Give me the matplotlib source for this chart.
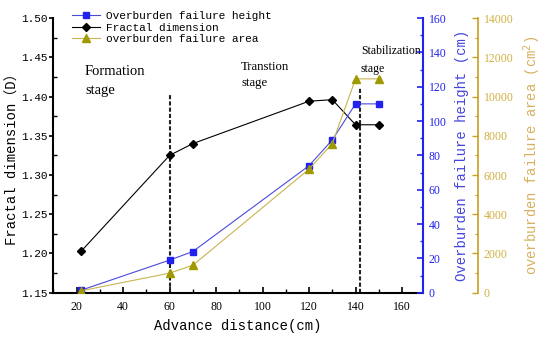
import matplotlib
matplotlib.use("Agg")
import matplotlib.pyplot as plt
from matplotlib.ticker import MultipleLocator, FormatStrFormatter

# ---- data ----
advance = [22, 60, 70, 120, 130, 140, 150]
fractal_dim = [1.203, 1.325, 1.340, 1.394, 1.396, 1.364, 1.364]
failure_height = [1.5, 19, 24, 74, 89, 110, 110]
failure_area = [100, 1000, 1400, 6300, 7600, 10900, 10900]
stage_lines = [60, 142]
stage_line_tops = [1.402, 1.412]
stage_texts = [("Formation", "stage"), ("Transtion", "stage"), ("Stabilization", "stage")]

BLUE = "#2222ee"
BLUE_LINE = "#4a4ae0"
OLIVE = "#a09a00"
OLIVE_LINE = "#c8b450"
OLIVE_AX = "#c8a020"
MONO = ["Liberation Mono", "Noto Sans CJK SC", "DejaVu Sans"]
SERIF = "Liberation Serif"

fig = plt.figure(figsize=(5.5, 3.4), dpi=100)
ax = fig.add_axes([0.097, 0.139, 0.672, 0.808])
ax2 = ax.twinx()
ax3 = ax.twinx()
ax3.spines["right"].set_position(("outward", 39.6))

# fractal dimension
l2, = ax.plot(advance, fractal_dim, color="black", lw=0.8, marker="D", ms=4.5,
              mfc="black", mec="black", label="Fractal dimension", zorder=3)
for xv, top in zip(stage_lines, stage_line_tops):
    ax.plot([xv, xv], [1.15, top], color="#222222", lw=1.5, ls=(0, (2, 1)), zorder=2)

# failure height
l1, = ax2.plot(advance, failure_height, color=BLUE_LINE, lw=0.8, marker="s", ms=4.5,
               mfc=BLUE, mec=BLUE, label="Overburden failure height", zorder=3)
# failure area
l3, = ax3.plot(advance, failure_area, color=OLIVE_LINE, lw=0.8, marker="^", ms=5.5,
               mfc=OLIVE, mec=OLIVE, label="overburden failure area", zorder=3)

# limits
ax.set_xlim(10, 169)
ax.set_ylim(1.15, 1.50)
ax2.set_ylim(0, 160)
ax3.set_ylim(0, 14000)

# main axes
for s in ["top", "right"]:
    ax.spines[s].set_visible(False)
for s in ["top", "left", "bottom"]:
    ax2.spines[s].set_visible(False)
    ax3.spines[s].set_visible(False)
ax3.spines["right"].set_visible(True)
ax.spines["left"].set_linewidth(1.5)
ax.spines["bottom"].set_linewidth(1.5)

ax.xaxis.set_major_locator(MultipleLocator(20))
ax.xaxis.set_minor_locator(MultipleLocator(10))
ax.yaxis.set_major_locator(MultipleLocator(0.05))
ax.yaxis.set_minor_locator(MultipleLocator(0.025))
ax.yaxis.set_major_formatter(FormatStrFormatter("%.2f"))
ax.tick_params(axis="x", which="major", direction="in", length=4, width=1.2, labelsize=8.5, pad=6)
ax.tick_params(axis="x", which="minor", direction="in", length=3, width=1.0)
ax.tick_params(axis="y", which="major", direction="out", length=3, width=1.2, labelsize=8, pad=1)
ax.tick_params(axis="y", which="minor", direction="in", length=3, width=1.0)
for t in ax.get_xticklabels():
    t.set_fontfamily(SERIF)
for t in ax.get_yticklabels():
    t.set_fontfamily(MONO)

ax.set_xlabel("Advance distance(cm)", family=MONO, fontsize=10, labelpad=4)
ax.set_ylabel("Fractal dimension（D）", family=MONO, fontsize=10, labelpad=1)

# blue axis
ax2.spines["right"].set_color(BLUE)
ax2.spines["right"].set_linewidth(1.5)
ax2.yaxis.set_major_locator(MultipleLocator(20))
ax2.yaxis.set_minor_locator(MultipleLocator(10))
ax2.tick_params(axis="y", which="major", direction="in", length=4, width=1.2, colors=BLUE, labelsize=8.5, pad=4)
ax2.tick_params(axis="y", which="minor", direction="in", length=2.5, width=1.0, colors=BLUE)
for t in ax2.get_yticklabels():
    t.set_fontfamily(SERIF)
ax2.set_ylabel("Overburden failure height (cm)", family=MONO, fontsize=10, color="#4444dd", labelpad=6)

# olive axis
ax3.spines["right"].set_color(OLIVE_AX)
ax3.spines["right"].set_linewidth(1.2)
ax3.yaxis.set_major_locator(MultipleLocator(2000))
ax3.yaxis.set_minor_locator(MultipleLocator(1000))
ax3.tick_params(axis="y", which="major", direction="in", length=4, width=1.0, colors=OLIVE_AX, labelsize=8.5, pad=4)
ax3.tick_params(axis="y", which="minor", direction="in", length=2.5, width=0.8, colors=OLIVE_AX)
for t in ax3.get_yticklabels():
    t.set_fontfamily(SERIF)
    t.set_color("#d0b040")
ax3.set_ylabel("overburden failure area (cm$^2$)", family=MONO, fontsize=10, color="#d8b060", labelpad=6)

# stage annotations
ax.text(23.6, 1.4315, stage_texts[0][0], family=SERIF, fontsize=10.5, va="center", ha="left")
ax.text(23.6, 1.4073, stage_texts[0][1], family=SERIF, fontsize=10.5, va="center", ha="left")
ax.text(90.8, 1.4379, stage_texts[1][0], family=SERIF, fontsize=9.2, va="center", ha="left")
ax.text(90.8, 1.4175, stage_texts[1][1], family=SERIF, fontsize=9.2, va="center", ha="left")
ax.text(142.3, 1.4583, stage_texts[2][0], family=SERIF, fontsize=8.5, va="center", ha="left", zorder=5)
ax.text(142.3, 1.4353, stage_texts[2][1], family=SERIF, fontsize=8.5, va="center", ha="left", zorder=5)

leg = ax3.legend(handles=[l1, l2, l3], loc="upper left",
                 bbox_to_anchor=(72 / 550, (340 - 11) / 340), bbox_transform=fig.transFigure,
                 frameon=False, borderpad=0, borderaxespad=0, handlelength=2.5,
                 handletextpad=0.55, labelspacing=0.15, prop={"family": MONO, "size": 8})

fig.savefig("out.png", dpi=100)
